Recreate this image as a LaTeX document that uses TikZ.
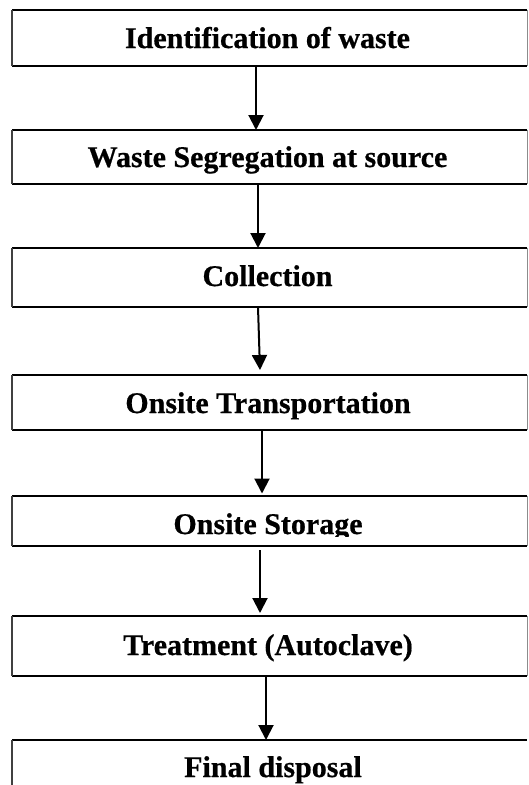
\documentclass[tikz,border=0pt]{standalone}
\usepackage{fontspec}
\setmainfont{Liberation Serif}[BoldFeatures={FakeBold=0.6}]
\usetikzlibrary{arrows.meta}
\tikzset{
  box/.style={rectangle, draw=none, minimum width=515pt, inner sep=0pt, outer sep=0pt},
  lbl/.style={anchor=base, inner sep=0pt, font=\bfseries\fontsize{30}{32}\selectfont},
  edge/.style={line width=2pt, black},
  sideedge/.style={line width=1.5pt, black!75},
  rightedge/.style={line width=0.9pt, black!45},
  arr/.style={line width=2pt, -{Triangle[width=15pt,length=15pt]}}
}
\begin{document}
\begin{tikzpicture}[x=1pt,y=-1pt]
\useasboundingbox (0,0) rectangle (528,785);
% boxes
\node[box, minimum height=56pt] (b1) at (269.5,38) {};
\node[box, minimum height=54pt] (b2) at (269.5,157) {};
\node[box, minimum height=59pt] (b3) at (269.5,277.5) {};
\node[box, minimum height=55pt] (b4) at (269.5,402.5) {};
\node[box, minimum height=50pt] (b5) at (269.5,521) {};
\node[box, minimum height=60pt] (b6) at (269.5,646) {};
\node[box, minimum height=90pt] (b7) at (269.5,785) {};
\foreach \b in {b1,b2,b3,b4,b5,b6}{
  \draw[edge] (\b.north west) -- (\b.north east);
  \draw[edge] (\b.south west) -- (\b.south east);
  \draw[sideedge] (\b.north west) -- (\b.south west);
  \draw[rightedge] (\b.north east) -- (\b.south east);
}
\draw[edge] (b7.north west) -- (b7.north east);
\draw[sideedge] (b7.north west) -- (b7.west);
% labels
\node[lbl] (t1) at (267.5,48) {Identification of waste};
\node[lbl] (t2) at (267.5,167) {Waste Segregation at source};
\node[lbl] (t3) at (267.5,286) {Collection};
\node[lbl] (t4) at (268,413) {Onsite Transportation};
\begin{scope}
  \clip (0,497) rectangle (528,536);
  \node[lbl] (t5) at (268,534) {Onsite Storage};
\end{scope}
\node[lbl] (t6) at (268,655) {Treatment (Autoclave)};
\node[lbl] (t7) at (273,777) {Final disposal};
% arrows
\draw[arr] ([xshift=-13.5pt]b1.south) -- ([xshift=-13.5pt]b2.north);
\draw[arr] ([xshift=-11.5pt]b2.south) -- ([xshift=-11.5pt]b3.north);
\draw[arr] ([xshift=-11.5pt]b3.south) -- ([xshift=-9.5pt,yshift=5pt]b4.north);
\draw[arr] ([xshift=-7.5pt]b4.south) -- ([xshift=-7.5pt,yshift=2.5pt]b5.north);
\draw[arr] ([xshift=-9.5pt,yshift=-4pt]b5.south) -- ([xshift=-9.5pt,yshift=3pt]b6.north);
\draw[arr] ([xshift=-3.5pt]b6.south) -- ([xshift=-3.5pt]b7.north);
\end{tikzpicture}
\end{document}
